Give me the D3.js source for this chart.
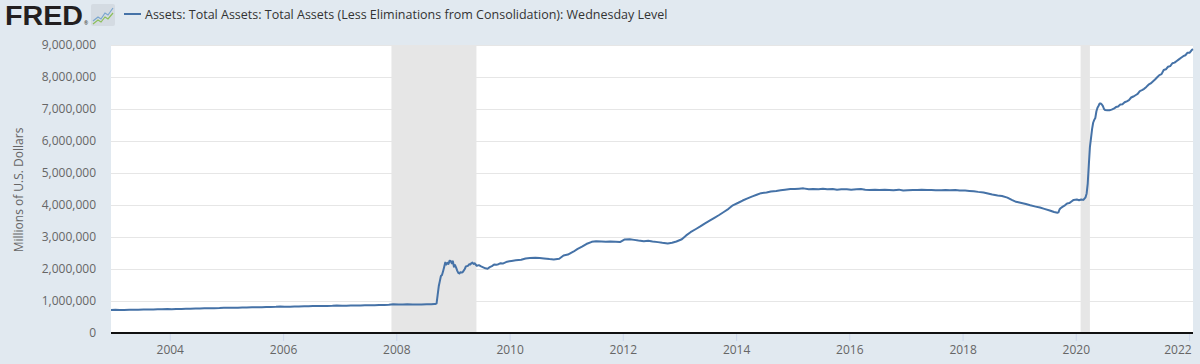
<!DOCTYPE html>
<html>
<head>
<meta charset="utf-8">
<script src="https://cdn.jsdelivr.net/npm/d3@7"></script>
<style>
  html, body { margin: 0; padding: 0; background: #e1e9f0; }
  svg { display: block; font-family: "Open Sans", "Noto Sans", sans-serif; }
</style>
</head>
<body>
<div id="chart"></div>
<script>
// WALCL, millions of U.S. dollars
const dates = [
  "2002-12-18",
  "2003-01-15","2003-02-12","2003-03-12","2003-04-16","2003-05-14","2003-06-11","2003-07-16","2003-08-13","2003-09-17","2003-10-15","2003-11-12","2003-12-17",
  "2004-01-14","2004-02-11","2004-03-17","2004-04-14","2004-05-12","2004-06-16","2004-07-14","2004-08-11","2004-09-15","2004-10-13","2004-11-17","2004-12-15",
  "2005-01-12","2005-02-16","2005-03-16","2005-04-13","2005-05-11","2005-06-15","2005-07-13","2005-08-17","2005-09-14","2005-10-12","2005-11-16","2005-12-14",
  "2006-01-11","2006-02-15","2006-03-15","2006-04-12","2006-05-17","2006-06-14","2006-07-12","2006-08-16","2006-09-13","2006-10-11","2006-11-15","2006-12-13",
  "2007-01-17","2007-02-14","2007-03-14","2007-04-11","2007-05-16","2007-06-13","2007-07-11","2007-08-15","2007-09-12","2007-10-17","2007-11-14","2007-12-12",
  "2008-01-16","2008-02-13","2008-03-12","2008-04-16","2008-05-14","2008-06-11","2008-07-16","2008-08-13","2008-09-03","2008-09-10","2008-09-17","2008-09-24",
  "2008-10-01","2008-10-08","2008-10-15","2008-10-22","2008-10-29","2008-11-05","2008-11-12","2008-11-19","2008-11-26","2008-12-03","2008-12-10","2008-12-17","2008-12-24","2008-12-31",
  "2009-01-07","2009-01-14","2009-01-21","2009-01-28","2009-02-04","2009-02-11","2009-02-18","2009-02-25","2009-03-04","2009-03-11","2009-03-18","2009-03-25",
  "2009-04-01","2009-04-08","2009-04-15","2009-04-22","2009-04-29","2009-05-06","2009-05-13","2009-05-20","2009-05-27","2009-06-03","2009-06-17","2009-07-01",
  "2009-07-15","2009-07-29","2009-08-12","2009-08-26","2009-09-09","2009-09-23","2009-10-07","2009-10-21","2009-11-04","2009-11-18","2009-12-02","2009-12-16","2009-12-30",
  "2010-01-13","2010-02-10","2010-03-17","2010-04-14","2010-05-12","2010-06-16","2010-07-14","2010-08-11","2010-09-15","2010-10-13","2010-11-17","2010-12-15",
  "2011-01-12","2011-02-16","2011-03-16","2011-04-13","2011-05-11","2011-06-15","2011-07-13","2011-08-17","2011-09-14","2011-10-12","2011-11-16","2011-12-14",
  "2012-01-11","2012-02-15","2012-03-14","2012-04-11","2012-05-16","2012-06-13","2012-07-11","2012-08-15","2012-09-12","2012-10-17","2012-11-14","2012-12-12",
  "2013-01-16","2013-02-13","2013-03-13","2013-04-17","2013-05-15","2013-06-12","2013-07-17","2013-08-14","2013-09-11","2013-10-16","2013-11-13","2013-12-11",
  "2014-01-15","2014-02-12","2014-03-12","2014-04-16","2014-05-14","2014-06-11","2014-07-16","2014-08-13","2014-09-17","2014-10-15","2014-11-12","2014-12-17",
  "2015-01-14","2015-02-11","2015-03-11","2015-04-15","2015-05-13","2015-06-17","2015-07-15","2015-08-12","2015-09-16","2015-10-14","2015-11-11","2015-12-16",
  "2016-01-13","2016-02-17","2016-03-16","2016-04-13","2016-05-11","2016-06-15","2016-07-13","2016-08-17","2016-09-14","2016-10-12","2016-11-16","2016-12-14",
  "2017-01-11","2017-02-15","2017-03-15","2017-04-12","2017-05-17","2017-06-14","2017-07-12","2017-08-16","2017-09-13","2017-10-11","2017-11-15","2017-12-13",
  "2018-01-17","2018-02-14","2018-03-14","2018-04-11","2018-05-16","2018-06-13","2018-07-11","2018-08-15","2018-09-12","2018-10-17","2018-11-14","2018-12-12",
  "2019-01-16","2019-02-13","2019-03-13","2019-04-17","2019-05-15","2019-06-12","2019-07-17","2019-08-14","2019-09-04","2019-09-11","2019-09-18","2019-09-25",
  "2019-10-09","2019-10-23","2019-11-06","2019-11-20","2019-12-04","2019-12-18",
  "2020-01-08","2020-01-22","2020-02-05","2020-02-19","2020-03-04","2020-03-11","2020-03-18","2020-03-25","2020-04-01","2020-04-08","2020-04-15","2020-04-22",
  "2020-04-29","2020-05-06","2020-05-13","2020-05-20","2020-05-27","2020-06-03","2020-06-10","2020-06-17","2020-06-24","2020-07-01","2020-07-08","2020-07-22",
  "2020-08-05","2020-08-19","2020-09-02","2020-09-16","2020-09-30","2020-10-14","2020-10-28","2020-11-11","2020-11-25","2020-12-09","2020-12-23",
  "2021-01-06","2021-01-20","2021-02-03","2021-02-17","2021-03-03","2021-03-17","2021-03-31","2021-04-14","2021-04-28","2021-05-12","2021-05-26","2021-06-09",
  "2021-06-23","2021-07-07","2021-07-21","2021-08-04","2021-08-18","2021-09-01","2021-09-15","2021-09-29","2021-10-13","2021-10-27","2021-11-10","2021-11-24",
  "2021-12-08","2021-12-22","2022-01-05","2022-01-19","2022-01-26"
];
const assets = [
  720000,
  725000,718000,722000,727000,730000,728000,733000,735000,737000,740000,742000,751000,
  745000,748000,752000,755000,760000,763000,767000,770000,773000,776000,782000,790000,
  787000,789000,792000,795000,800000,803000,806000,808000,810000,815000,818000,826000,
  820000,823000,826000,830000,835000,838000,840000,842000,845000,847000,850000,857000,
  852000,855000,858000,860000,862000,866000,868000,871000,874000,877000,882000,895000,
  890000,888000,895000,892000,890000,893000,895000,898000,905000,906000,928000,1190000,
  1460000,1620000,1780000,1810000,1930000,2060000,2200000,2140000,2190000,2160000,2260000,2250000,2180000,2240000,
  2070000,2120000,2040000,1950000,1880000,1860000,1900000,1890000,1900000,1950000,2000000,2080000,
  2090000,2100000,2150000,2140000,2180000,2200000,2160000,2180000,2140000,2100000,2120000,2080000,
  2050000,2020000,2010000,2060000,2090000,2140000,2130000,2150000,2180000,2170000,2200000,2230000,2240000,
  2250000,2270000,2290000,2330000,2340000,2350000,2340000,2330000,2310000,2300000,2320000,2420000,
  2450000,2540000,2630000,2700000,2780000,2850000,2870000,2860000,2850000,2860000,2850000,2840000,
  2920000,2930000,2910000,2890000,2870000,2880000,2860000,2840000,2820000,2800000,2820000,2860000,
  2930000,3050000,3150000,3250000,3330000,3420000,3520000,3600000,3680000,3790000,3880000,3990000,
  4070000,4140000,4200000,4270000,4320000,4370000,4390000,4420000,4440000,4460000,4480000,4500000,
  4500000,4510000,4520000,4490000,4500000,4490000,4510000,4490000,4500000,4480000,4490000,4490000,
  4480000,4490000,4500000,4480000,4470000,4480000,4470000,4480000,4470000,4460000,4480000,4450000,
  4460000,4470000,4470000,4480000,4470000,4470000,4460000,4460000,4470000,4460000,4470000,4450000,
  4450000,4440000,4430000,4410000,4390000,4360000,4330000,4300000,4280000,4230000,4160000,4100000,
  4060000,4030000,3990000,3950000,3920000,3880000,3830000,3780000,3760000,3770000,3860000,3900000,
  3950000,3990000,4050000,4060000,4110000,4160000,
  4170000,4150000,4170000,4160000,4240000,4360000,4670000,5250000,5810000,6080000,6370000,6570000,
  6660000,6720000,6930000,7040000,7100000,7170000,7170000,7140000,7090000,7000000,6970000,6960000,
  6960000,6980000,7010000,7060000,7080000,7140000,7150000,7210000,7240000,7280000,7360000,
  7390000,7430000,7470000,7560000,7590000,7630000,7690000,7760000,7800000,7860000,7920000,7990000,
  8060000,8090000,8220000,8240000,8320000,8340000,8430000,8450000,8500000,8550000,8600000,8650000,
  8680000,8760000,8760000,8850000,8870000
];
const recessions = [["2007-12-01", "2009-06-01"], ["2020-02-01", "2020-04-01"]];
const yTicks = [0, 1000000, 2000000, 3000000, 4000000, 5000000, 6000000, 7000000, 8000000, 9000000];
const seriesTitle = "Assets: Total Assets: Total Assets (Less Eliminations from Consolidation): Wednesday Level";
const yTitle = "Millions of U.S. Dollars";

const w = 1200, h = 364;
const margin = { top: 45, right: 7, bottom: 31, left: 111 };
const innerW = w - margin.left - margin.right;
const innerH = h - margin.top - margin.bottom;

const parse = d3.timeParse("%Y-%m-%d");
const data = dates.map((d, i) => ({ date: parse(d), value: assets[i] }));

const svg = d3.select("#chart")
  .append("svg")
  .attr("width", w)
  .attr("height", h);

svg.append("rect")
  .attr("width", w)
  .attr("height", h)
  .attr("fill", "#e1e9f0");

// legend / logo
svg.append("text")
  .attr("x", 5)
  .attr("y", 25)
  .attr("font-family", "'Liberation Sans', Arial, sans-serif")
  .attr("font-weight", "bold")
  .attr("font-size", 27)
  .attr("textLength", 78)
  .attr("lengthAdjust", "spacingAndGlyphs")
  .attr("fill", "#231f20")
  .text("FRED");
svg.append("text")
  .attr("x", 84)
  .attr("y", 25)
  .attr("font-size", 5)
  .attr("fill", "#231f20")
  .text("®");

let icon = svg.append("g").attr("transform", "translate(91,4)");
icon.append("rect")
  .attr("width", 24).attr("height", 22).attr("rx", 2)
  .attr("fill", "#d4dbe2");
icon.append("path")
  .attr("d", "M2,17 L7,13 L10,15 L14,9 L17,11 L22,4")
  .attr("fill", "none").attr("stroke", "#7aa6cf").attr("stroke-width", 1.2);
icon.append("path")
  .attr("d", "M2,20 L7,16 L10,18 L14,13 L17,15 L22,9")
  .attr("fill", "none").attr("stroke", "#8cbf5a").attr("stroke-width", 1.2);

svg.append("line")
  .attr("x1", 124).attr("x2", 141)
  .attr("y1", 14).attr("y2", 14)
  .attr("stroke", "#4572a7")
  .attr("stroke-width", 2);
svg.append("text")
  .attr("x", 145)
  .attr("y", 19)
  .attr("font-size", 12.5)
  .attr("fill", "#333333")
  .text(seriesTitle);

// scales
let xScale = d3.scaleTime()
  .domain(d3.extent(data, d => d.date))
  .range([0, innerW]);

let yScale = d3.scaleLinear()
  .domain([0, 9000000])
  .range([innerH, 0]);

let g = svg.append("g").attr("transform", `translate(${margin.left},${margin.top})`);

g.append("rect")
  .attr("width", innerW)
  .attr("height", innerH)
  .attr("fill", "#ffffff");

// recession shading
g.selectAll("rect.recession")
  .data(recessions)
  .enter()
  .append("rect")
  .attr("class", "recession")
  .attr("x", d => xScale(parse(d[0])))
  .attr("width", d => xScale(parse(d[1])) - xScale(parse(d[0])))
  .attr("y", 0)
  .attr("height", innerH)
  .attr("fill", "#e6e6e6");

// gridlines
g.selectAll("line.grid")
  .data(yTicks.slice(1))
  .enter()
  .append("line")
  .attr("class", "grid")
  .attr("x1", 0).attr("x2", innerW)
  .attr("y1", d => Math.round(yScale(d)) + 0.5)
  .attr("y2", d => Math.round(yScale(d)) + 0.5)
  .attr("stroke", "#e6e6e6")
  .attr("stroke-width", 1);

// y axis labels
let yAxis = d3.axisLeft(yScale)
  .tickValues(yTicks)
  .tickFormat(d3.format(","))
  .tickSize(0)
  .tickPadding(15);
let yG = g.append("g").call(yAxis);
yG.select(".domain").remove();
yG.selectAll("text")
  .attr("font-family", "'Open Sans', sans-serif")
  .attr("font-size", 12)
  .attr("fill", "#666666");

svg.append("text")
  .attr("transform", `translate(23,${margin.top + innerH / 2 + 1}) rotate(-90)`)
  .attr("text-anchor", "middle")
  .attr("font-size", 12)
  .attr("fill", "#666666")
  .text(yTitle);

// x axis
let xAxis = d3.axisBottom(xScale)
  .ticks(d3.timeYear.every(2))
  .tickFormat(d3.timeFormat("%Y"))
  .tickSize(8)
  .tickPadding(4);
let xG = g.append("g")
  .attr("transform", `translate(0,${innerH})`)
  .call(xAxis);
xG.select(".domain").remove();
xG.selectAll(".tick line").attr("stroke", "#ccd6eb");
xG.selectAll("text")
  .attr("font-family", "'Open Sans', sans-serif")
  .attr("font-size", 12)
  .attr("fill", "#666666");
// keep the last label inside the chart, as the original does
xG.selectAll(".tick")
  .filter(d => xScale(d) > innerW - 20)
  .select("text")
  .attr("text-anchor", "end")
  .attr("dx", 2);

g.append("line")
  .attr("x1", 0).attr("x2", innerW)
  .attr("y1", innerH).attr("y2", innerH)
  .attr("stroke", "#111111")
  .attr("stroke-width", 2);

// series
let line = d3.line()
  .x(d => xScale(d.date))
  .y(d => yScale(d.value));

g.append("path")
  .datum(data)
  .attr("fill", "none")
  .attr("stroke", "#4572a7")
  .attr("stroke-width", 2)
  .attr("stroke-linejoin", "round")
  .attr("d", line);
</script>
</body>
</html>
